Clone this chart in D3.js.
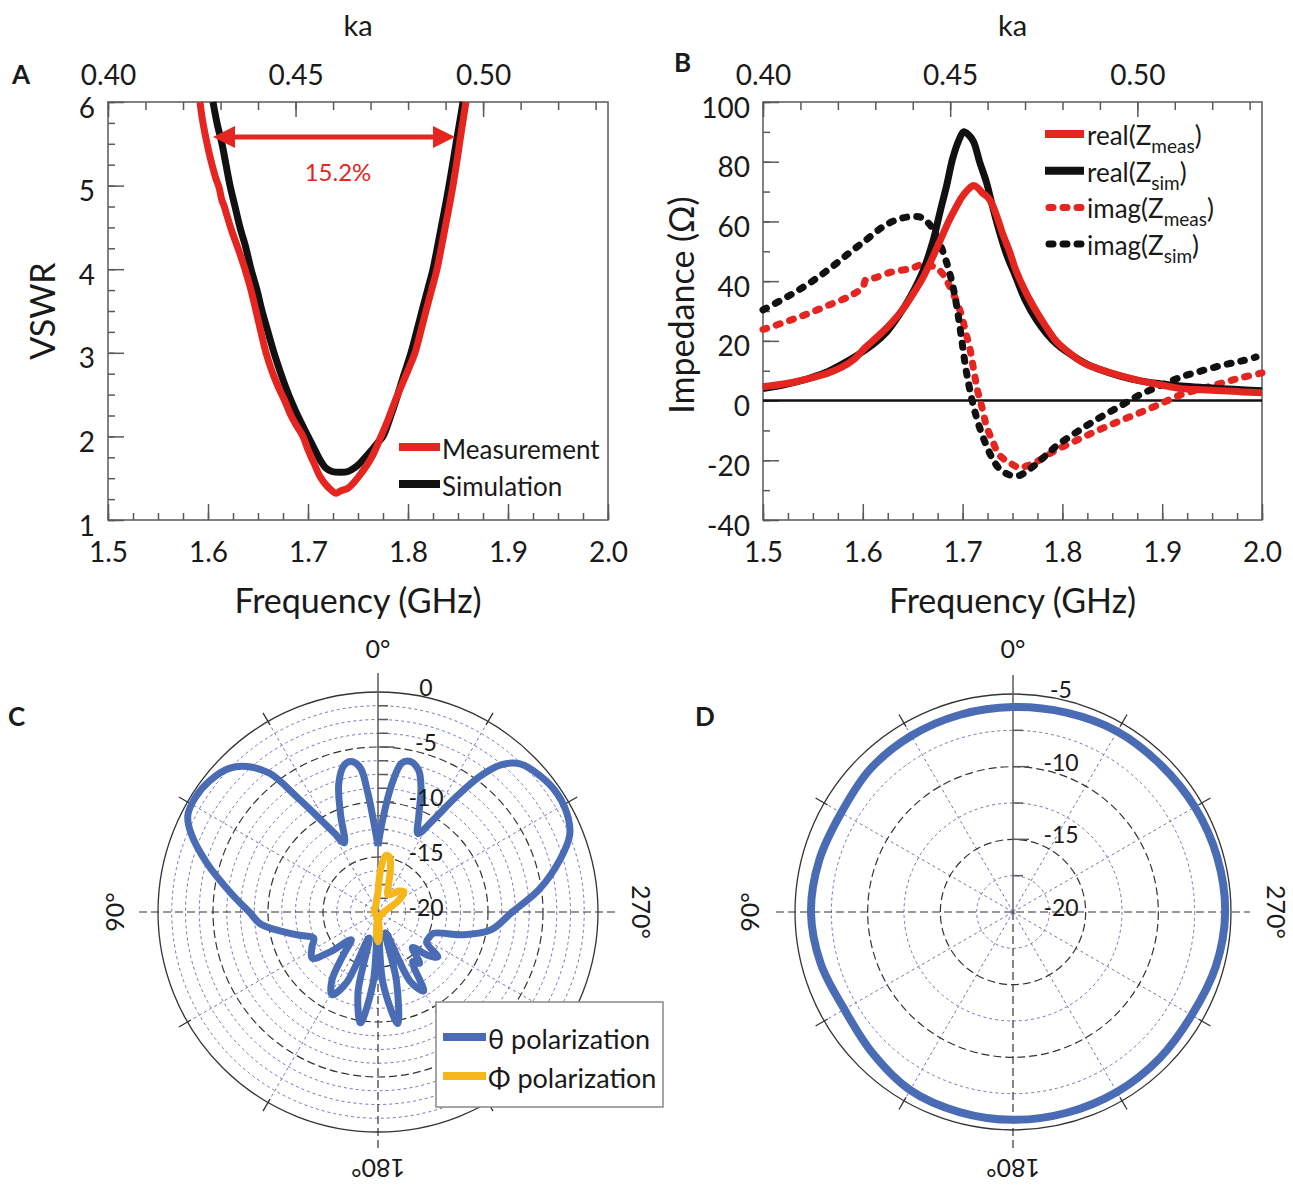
<!DOCTYPE html>
<html>
<head>
<meta charset="utf-8">
<script src="https://cdn.jsdelivr.net/npm/d3@7"></script>
<style>
  body { margin: 0; background: #fff; }
  svg text { font-family: Lato, "Noto Sans", "Open Sans", sans-serif; fill: #1a1a1a; }
</style>
</head>
<body>
<svg width="1293" height="1189"></svg>
<script>
// ---------------- data ----------------
// A: VSWR vs frequency (GHz)
var measFreq = [1.592,1.594,1.597,1.600,1.604,1.608,1.611,1.614,1.616,1.619,1.624,1.630,1.637,1.643,1.650,1.658,1.664,1.670,1.677,1.683,1.689,1.695,1.700,1.706,1.712,1.718,1.723,1.728,1.733,1.740,1.746,1.752,1.758,1.765,1.773,1.780,1.788,1.795,1.801,1.807,1.812,1.818,1.824,1.829,1.834,1.838,1.842,1.845,1.849,1.853,1.856,1.858];
var measVswr = [6.00,5.82,5.62,5.45,5.25,5.08,4.98,4.82,4.76,4.64,4.45,4.25,4.00,3.75,3.40,3.00,2.78,2.60,2.42,2.25,2.12,2.00,1.84,1.68,1.52,1.42,1.36,1.32,1.35,1.38,1.45,1.54,1.64,1.78,2.00,2.20,2.45,2.65,2.82,3.00,3.22,3.50,3.77,4.00,4.30,4.55,4.80,5.00,5.30,5.62,5.85,6.00];
var simFreq = [1.605,1.609,1.614,1.618,1.622,1.627,1.632,1.638,1.643,1.649,1.654,1.660,1.666,1.672,1.678,1.684,1.690,1.695,1.700,1.706,1.712,1.718,1.724,1.733,1.740,1.746,1.752,1.758,1.764,1.770,1.775,1.782,1.789,1.796,1.803,1.809,1.814,1.820,1.825,1.830,1.834,1.838,1.841,1.845,1.848,1.852,1.855];
var simVswr = [6.00,5.75,5.50,5.25,5.00,4.75,4.50,4.25,4.00,3.75,3.50,3.25,3.00,2.78,2.58,2.40,2.24,2.12,2.00,1.86,1.72,1.62,1.58,1.57,1.58,1.62,1.68,1.76,1.84,1.93,2.00,2.22,2.47,2.74,3.00,3.27,3.50,3.77,4.00,4.30,4.55,4.80,5.00,5.28,5.50,5.78,6.00];
var bandEdges = [1.605, 1.847];
var bandLevel = 5.58;
var bandLabel = '15.2%';

// B: impedance (ohm) vs frequency (GHz)
var reMeasFreq = [1.500,1.525,1.545,1.565,1.578,1.590,1.603,1.615,1.628,1.640,1.649,1.660,1.670,1.678,1.686,1.693,1.699,1.705,1.711,1.716,1.720,1.724,1.728,1.734,1.740,1.747,1.753,1.763,1.774,1.784,1.794,1.805,1.815,1.825,1.836,1.857,1.878,1.899,1.919,1.940,1.961,1.980,2.000];
var reMeasZ = [4.6,5.8,7.3,9.2,11.0,13.5,17.9,21.5,25.8,30.5,35.0,41.0,48.0,54.0,60.0,64.5,68.0,70.5,72.0,71.0,69.5,68.5,66.8,62.0,56.0,50.0,44.0,36.5,29.8,24.5,19.8,16.5,13.9,12.0,10.6,8.4,6.6,5.2,4.0,3.6,3.3,2.9,2.6];
var reSimFreq = [1.500,1.523,1.545,1.562,1.578,1.595,1.611,1.624,1.636,1.648,1.661,1.670,1.678,1.684,1.690,1.696,1.701,1.706,1.711,1.717,1.724,1.730,1.736,1.744,1.753,1.763,1.774,1.784,1.794,1.805,1.815,1.825,1.836,1.857,1.878,1.899,1.919,1.940,1.961,1.980,2.000];
var reSimZ = [4.0,5.4,7.3,9.3,12.0,15.3,19.0,23.0,28.5,35.0,44.0,53.0,64.0,72.0,81.0,87.0,90.0,89.0,86.7,80.0,73.0,65.0,57.6,49.0,41.7,33.5,27.0,22.5,19.0,16.2,14.0,12.1,10.6,8.3,6.6,5.6,4.9,4.4,4.0,3.6,3.3];
var imMeasFreq = [1.500,1.523,1.545,1.566,1.587,1.600,1.603,1.611,1.628,1.649,1.661,1.674,1.680,1.686,1.693,1.699,1.703,1.707,1.711,1.715,1.720,1.724,1.730,1.736,1.743,1.749,1.757,1.765,1.774,1.784,1.794,1.815,1.836,1.857,1.878,1.899,1.919,1.940,1.961,1.980,2.000];
var imMeasZ = [23.8,26.4,29.1,32.0,35.0,38.0,40.5,41.0,43.0,44.3,45.7,44.3,42.5,39.0,34.0,28.5,23.0,17.9,10.5,3.3,-3.0,-8.6,-13.5,-17.9,-20.0,-21.2,-22.5,-21.8,-20.5,-18.5,-16.5,-13.2,-9.9,-6.9,-4.0,-1.0,2.0,4.0,6.0,7.7,9.3];
var imSimFreq = [1.500,1.523,1.545,1.566,1.587,1.604,1.620,1.632,1.645,1.657,1.664,1.670,1.676,1.682,1.688,1.693,1.698,1.703,1.707,1.711,1.717,1.724,1.730,1.736,1.743,1.749,1.757,1.765,1.774,1.784,1.794,1.815,1.836,1.857,1.878,1.899,1.919,1.940,1.961,1.980,1.994];
var imSimZ = [30.4,34.5,39.0,44.0,49.6,54.0,58.2,60.3,61.5,61.5,60.0,57.6,53.5,48.3,41.5,33.7,23.0,11.2,4.0,-2.0,-9.0,-15.2,-19.5,-22.5,-24.3,-25.1,-25.1,-23.5,-21.2,-18.2,-15.2,-10.4,-6.0,-2.0,2.0,5.1,7.9,10.0,11.9,13.3,14.6];

// tick labels
var freqTicks = [1.5, 1.6, 1.7, 1.8, 1.9, 2.0];
var kaTicks = [0.40, 0.45, 0.50];
var vswrTicks = [1, 2, 3, 4, 5, 6];
var zTicks = [-40, -20, 0, 20, 40, 60, 80, 100];

// C: radiation pattern, angle (deg, 0 top, 90 left) -> gain (dB)
var thetaAngle = [0,3,5,7,10,13,17,21,26,29,32,35,38,42,46,52,58,63,67,74,83,90,96,103,107,112,118,125,130,136,141,146,151,156,161,166,171,176,180,184,190,195,200,205,210,215,219,224,229,233,238,244,249,255,261,270,278,286,292,298,305,312,316,320,323,326,329,333,337,341,344,348,351,354,357,360];
var thetaGain = [-14.0,-11.5,-9.0,-6.8,-6.1,-6.3,-7.8,-10.5,-13.0,-11.8,-10.0,-7.4,-4.0,-2.2,-1.2,-0.6,-0.4,-0.6,-1.5,-3.8,-6.6,-8.3,-9.3,-11.6,-12.7,-13.7,-13.2,-12.7,-14.4,-16.5,-15.0,-12.5,-11.4,-13.0,-17.5,-12.5,-9.8,-13.5,-18.5,-13.5,-9.7,-13.5,-18.0,-13.0,-11.7,-14.5,-14.0,-15.5,-14.0,-13.2,-14.8,-14.8,-14.6,-12.0,-9.6,-7.8,-5.2,-2.8,-1.2,-0.6,-0.5,-0.9,-1.3,-2.5,-4.5,-7.5,-10.2,-12.0,-10.5,-8.0,-6.6,-6.0,-6.3,-8.5,-11.5,-14.0];
var phiAngle = [0,8,20,60,120,170,176,180,184,190,240,280,298,308,315,330,338,344,348,352,356,360];
var phiGain = [-18.2,-19.0,-19.4,-19.6,-19.7,-19.5,-18.0,-17.3,-18.0,-19.5,-19.6,-19.3,-18.0,-17.0,-17.3,-18.2,-17.5,-15.9,-14.9,-14.8,-15.9,-18.2];
var cRingLabels = [0, -5, -10, -15, -20];

// D: radiation pattern
var dAngle = [0,15,30,45,60,75,90,105,120,135,150,165,180,195,210,225,240,255,270,285,300,315,330,345];
var dGain = [-5.9,-5.95,-6.0,-6.1,-6.35,-6.2,-6.1,-6.3,-6.6,-6.3,-5.85,-5.75,-5.7,-5.7,-5.7,-5.75,-5.8,-5.55,-5.4,-5.45,-5.55,-5.65,-5.65,-5.8];
var dRingLabels = [-5, -10, -15, -20];
var angleLabels = [0, 90, 180, 270];

// ---------------- style ----------------
var red = '#e5251f';
var black = '#111';
var blue = '#4a6cb5';
var yellow = '#f5b71b';
var axisColor = '#5a5a5a';
var gridBlue = '#7473bd';

var svg = d3.select('svg');

function styleAxis(g, size) {
    g.attr('font-size', size).attr('font-family', null);
    g.select('.domain').remove();
    g.selectAll('line').attr('stroke', axisColor).attr('stroke-width', 1.5);
}

// cartesian panel with bottom freq axis, top ka axis, left value axis
function cartesian(x, y, ka, yMinor, yMajor) {
    var g = svg.append('g');
    var x0 = x.range()[0], x1 = x.range()[1];
    var yb = y.range()[0], yt = y.range()[1];
    var freqMinor = d3.range(21).map(i => 1.5 + i * 0.025);
    var kaMinor = d3.range(14).map(i => 0.40 + i * 0.01);

    g.append('g').attr('transform', `translate(0,${yb})`)
        .call(d3.axisBottom(x).tickValues(freqMinor).tickSize(-7).tickFormat(''))
        .call(a => styleAxis(a, 28));
    g.append('g').attr('transform', `translate(0,${yb})`)
        .call(d3.axisBottom(x).tickValues(freqTicks).tickSize(-16).tickPadding(22).tickFormat(d3.format('.1f')))
        .call(a => styleAxis(a, 28));

    g.append('g').attr('transform', `translate(0,${yt})`)
        .call(d3.axisTop(ka).tickValues(kaMinor).tickSize(-8).tickFormat(''))
        .call(a => styleAxis(a, 28));
    g.append('g').attr('transform', `translate(0,${yt})`)
        .call(d3.axisTop(ka).tickValues(kaTicks).tickSize(-15).tickPadding(17).tickFormat(d3.format('.2f')))
        .call(a => styleAxis(a, 28));

    g.append('g').attr('transform', `translate(${x0},0)`)
        .call(d3.axisLeft(y).tickValues(yMinor).tickSize(-7).tickFormat(''))
        .call(a => styleAxis(a, 28));
    g.append('g').attr('transform', `translate(${x0},0)`)
        .call(d3.axisLeft(y).tickValues(yMajor).tickSize(-16).tickPadding(13).tickFormat(d => String(d)))
        .call(a => styleAxis(a, 28))
        .call(a => a.selectAll('text').attr('dy', null).attr('y', 4).attr('dominant-baseline', 'central'));

    g.append('rect')
        .attr('x', x0).attr('y', yt)
        .attr('width', x1 - x0).attr('height', yb - yt)
        .attr('fill', 'none').attr('stroke', axisColor).attr('stroke-width', 1.5);

    g.append('text').attr('x', (x0 + x1) / 2).attr('y', 36)
        .attr('text-anchor', 'middle').attr('font-size', 29).text('ka');
    g.append('text').attr('x', (x0 + x1) / 2).attr('y', 613)
        .attr('text-anchor', 'middle').attr('font-size', 34).text('Frequency (GHz)');
    return g;
}

function panelLetter(txt, x, y) {
    svg.append('text').attr('x', x).attr('y', y)
        .attr('font-size', 26).attr('font-weight', 700).text(txt);
}

function zip(a, b) { return a.map((v, i) => [v, b[i]]); }

// ---------------- panel A ----------------
var ax = d3.scaleLinear().domain([1.5, 2.0]).range([108, 608]);
var ay = d3.scaleLinear().domain([1, 6]).range([520, 102]);
var aKa = d3.scaleLinear().domain([0.40, 0.5333]).range([108, 608]);
var gA = cartesian(ax, ay, aKa, d3.range(21).map(i => 1 + i * 0.25), vswrTicks);

gA.append('text')
    .attr('transform', `translate(55,${(ay.range()[0] + ay.range()[1]) / 2}) rotate(-90)`)
    .attr('text-anchor', 'middle').attr('font-size', 34).text('VSWR');

var lineA = d3.line().x(d => ax(d[0])).y(d => ay(d[1])).curve(d3.curveCatmullRom.alpha(0.5));
gA.append('path').datum(zip(simFreq, simVswr)).attr('d', lineA)
    .attr('fill', 'none').attr('stroke', black).attr('stroke-width', 7).attr('stroke-linejoin', 'round');
gA.append('path').datum(zip(measFreq, measVswr)).attr('d', lineA)
    .attr('fill', 'none').attr('stroke', red).attr('stroke-width', 7).attr('stroke-linejoin', 'round');

// bandwidth arrow
var arrY = ay(bandLevel);
var xa = ax(bandEdges[0]), xb = ax(bandEdges[1]);
gA.append('line').attr('x1', xa + 15).attr('x2', xb - 15).attr('y1', arrY).attr('y2', arrY)
    .attr('stroke', red).attr('stroke-width', 5);
gA.append('path').attr('d', `M${xa},${arrY} L${xa + 22},${arrY - 11} L${xa + 22},${arrY + 11} Z`).attr('fill', red);
gA.append('path').attr('d', `M${xb},${arrY} L${xb - 22},${arrY - 11} L${xb - 22},${arrY + 11} Z`).attr('fill', red);
gA.append('text').attr('x', ax(1.73)).attr('y', ay(5.06))
    .attr('text-anchor', 'middle').attr('font-size', 24).style('fill', red).text(bandLabel);

// legend A
var legA = [{name: 'Measurement', color: red}, {name: 'Simulation', color: black}];
legA.forEach((d, i) => {
    var yy = 447 + i * 37;
    gA.append('line').attr('x1', 399).attr('x2', 440).attr('y1', yy).attr('y2', yy)
        .attr('stroke', d.color).attr('stroke-width', 8);
    gA.append('text').attr('x', 442).attr('y', yy + 12).attr('font-size', 26).text(d.name);
});

panelLetter('A', 12, 84);

// ---------------- panel B ----------------
var bx = d3.scaleLinear().domain([1.5, 2.0]).range([763, 1262]);
var by = d3.scaleLinear().domain([-40, 100]).range([520, 102]);
var bKa = d3.scaleLinear().domain([0.40, 0.5333]).range([763, 1262]);
var gB = cartesian(bx, by, bKa, d3.range(15).map(i => -40 + i * 10), zTicks);

gB.append('text')
    .attr('transform', `translate(694,305) rotate(-90)`)
    .attr('text-anchor', 'middle').attr('font-size', 34).text('Impedance (Ω)');

gB.append('line').attr('x1', bx(1.5)).attr('x2', bx(2.0)).attr('y1', by(0)).attr('y2', by(0))
    .attr('stroke', black).attr('stroke-width', 2.5);

var lineB = d3.line().x(d => bx(d[0])).y(d => by(d[1])).curve(d3.curveCatmullRom.alpha(0.5));
var seriesB = [
    {name: 'real', sub: 'meas', data: zip(reMeasFreq, reMeasZ), color: red, dash: null},
    {name: 'real', sub: 'sim', data: zip(reSimFreq, reSimZ), color: black, dash: null},
    {name: 'imag', sub: 'meas', data: zip(imMeasFreq, imMeasZ), color: red, dash: '4,10'},
    {name: 'imag', sub: 'sim', data: zip(imSimFreq, imSimZ), color: black, dash: '4,10'}
];
// draw order: dashed below, solid on top
[2, 3, 1, 0].forEach(i => {
    var s = seriesB[i];
    gB.append('path').datum(s.data).attr('d', lineB)
        .attr('fill', 'none').attr('stroke', s.color)
        .attr('stroke-width', 7)
        .attr('stroke-linecap', s.dash ? 'round' : 'butt')
        .attr('stroke-dasharray', s.dash);
});

seriesB.forEach((s, i) => {
    var yy = 134 + i * 36.7;
    gB.append('line').attr('x1', s.dash ? 1049 : 1045).attr('x2', s.dash ? 1082 : 1084).attr('y1', yy).attr('y2', yy)
        .attr('stroke', s.color).attr('stroke-width', s.dash ? 7 : 8)
        .attr('stroke-linecap', s.dash ? 'round' : 'butt')
        .attr('stroke-dasharray', s.dash);
    var t = gB.append('text').attr('x', 1087).attr('y', yy + 11).attr('font-size', 26);
    t.append('tspan').text(s.name + '(Z');
    t.append('tspan').attr('font-size', 19).attr('dy', 8).text(s.sub);
    t.append('tspan').attr('dy', -8).text(')');
});

panelLetter('B', 674, 72);

// ---------------- polar panels ----------------
function polar(cx, cy, R, dbMin, dbMax, minorStep, majorStep, ringLabels) {
    var g = svg.append('g').attr('transform', `translate(${cx},${cy})`);
    var r = d3.scaleLinear().domain([dbMin, dbMax]).range([0, R]).clamp(true);
    var rings = d3.range(dbMin + minorStep, dbMax - 1e-6, minorStep);
    var isMajor = v => Math.abs(Math.round(v / majorStep) * majorStep - v) < 1e-6;
    var rad = a => a * Math.PI / 180;
    var ext = R + 19;

    g.selectAll('.minor-ring').data(rings.filter(v => !isMajor(v))).join('circle')
        .attr('r', d => r(d)).attr('fill', 'none')
        .attr('stroke', gridBlue).attr('stroke-width', 1).attr('stroke-dasharray', '3,3');
    var spokes = [30, 60, 120, 150, 210, 240, 300, 330];
    g.selectAll('.spoke').data(spokes).join('line')
        .attr('x1', 0).attr('y1', 0)
        .attr('x2', d => -R * Math.sin(rad(d))).attr('y2', d => -R * Math.cos(rad(d)))
        .attr('stroke', gridBlue).attr('stroke-width', 1).attr('stroke-dasharray', '3,3');
    g.selectAll('.major-ring').data(rings.filter(isMajor)).join('circle')
        .attr('r', d => r(d)).attr('fill', 'none')
        .attr('stroke', '#333').attr('stroke-width', 1.2).attr('stroke-dasharray', '8,4');
    g.append('circle').attr('r', R).attr('fill', 'none').attr('stroke', '#333').attr('stroke-width', 1.3);

    g.append('line').attr('x1', -ext).attr('x2', ext).attr('y1', 0).attr('y2', 0)
        .attr('stroke', '#333').attr('stroke-width', 1.2).attr('stroke-dasharray', '8,4');
    g.append('line').attr('x1', 0).attr('x2', 0).attr('y1', 0).attr('y2', ext)
        .attr('stroke', '#333').attr('stroke-width', 1.2).attr('stroke-dasharray', '8,4');
    g.append('line').attr('x1', 0).attr('x2', 0).attr('y1', 0).attr('y2', -ext)
        .attr('stroke', axisColor).attr('stroke-width', 1.5);

    // radial axis ticks
    g.selectAll('.rtick').data(rings).join('line')
        .attr('x1', 0).attr('x2', d => isMajor(d) ? 16 : 10)
        .attr('y1', d => -r(d)).attr('y2', d => -r(d))
        .attr('stroke', axisColor).attr('stroke-width', 1.5);
    // outer ticks
    g.selectAll('.otick').data(spokes).join('line')
        .attr('x1', d => -(R - 4) * Math.sin(rad(d))).attr('y1', d => -(R - 4) * Math.cos(rad(d)))
        .attr('x2', d => -(R + 10) * Math.sin(rad(d))).attr('y2', d => -(R + 10) * Math.cos(rad(d)))
        .attr('stroke', '#333').attr('stroke-width', 1.3);

    return {g: g, r: r, R: R, labels: function () {
        g.selectAll('.rlabel').data(ringLabels).join('text')
            .attr('x', 48).attr('y', d => -r(d) - 5)
            .attr('text-anchor', 'middle').attr('dominant-baseline', 'central')
            .attr('font-size', 23).text(d => String(d));
        g.selectAll('.alabel').data(angleLabels).join('text')
            .attr('transform', d => {
                var rr = d === 180 ? 257 : 264;
                return `translate(${-rr * Math.sin(rad(d))},${-rr * Math.cos(rad(d))}) rotate(${-d})`;
            })
            .attr('text-anchor', 'middle').attr('dominant-baseline', 'central')
            .attr('font-size', 25).text(d => d + '°');
    }};
}

function radialLine(r) {
    return d3.lineRadial()
        .angle(d => -d[0] * Math.PI / 180)
        .radius(d => r(d[1]));
}

// ---------------- panel C ----------------
var pC = polar(378, 912, 220, -20, 0, 1.25, 5, cRingLabels);
pC.g.append('path').datum(zip(thetaAngle, thetaGain))
    .attr('d', radialLine(pC.r).curve(d3.curveCatmullRom.alpha(0.5)))
    .attr('fill', 'none').attr('stroke', blue).attr('stroke-width', 7).attr('stroke-linejoin', 'round');
pC.g.append('path').datum(zip(phiAngle, phiGain))
    .attr('d', radialLine(pC.r).curve(d3.curveCatmullRom.alpha(0.5)))
    .attr('fill', 'none').attr('stroke', yellow).attr('stroke-width', 7).attr('stroke-linejoin', 'round');
pC.labels();

var legC = svg.append('g');
legC.append('rect').attr('x', 436).attr('y', 1002).attr('width', 227).attr('height', 105)
    .attr('fill', '#fff').attr('stroke', '#888').attr('stroke-width', 1.5);
[{name: 'θ polarization', color: blue}, {name: 'Φ polarization', color: yellow}].forEach((d, i) => {
    var yy = 1037 + i * 39;
    legC.append('line').attr('x1', 443).attr('x2', 486).attr('y1', yy).attr('y2', yy)
        .attr('stroke', d.color).attr('stroke-width', 8);
    legC.append('text').attr('x', 488).attr('y', yy + 12).attr('font-size', 27).text(d.name);
});
panelLetter('C', 8, 726);

// ---------------- panel D ----------------
var pD = polar(1013, 912, 218, -20, -5, 2.5, 5, dRingLabels);
pD.g.append('path').datum(zip(dAngle, dGain))
    .attr('d', radialLine(pD.r).curve(d3.curveCatmullRomClosed.alpha(0.5)))
    .attr('fill', 'none').attr('stroke', blue).attr('stroke-width', 8);
pD.labels();
panelLetter('D', 695, 726);
</script>
</body>
</html>
